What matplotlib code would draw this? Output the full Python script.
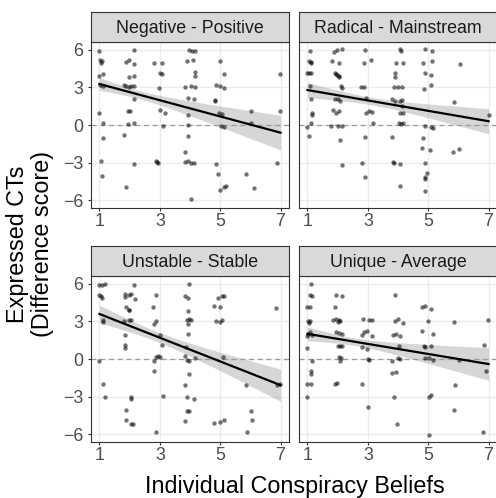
import matplotlib
matplotlib.use("Agg")
import matplotlib.pyplot as plt
import numpy as np

plt.rcParams['font.family'] = ['Liberation Sans', 'DejaVu Sans']

# ---------------- data ----------------
panel_titles = ['Negative - Positive', 'Radical - Mainstream',
                'Unstable - Stable', 'Unique - Average']
x_ticks = [1, 3, 5, 7]
y_ticks = [-6, -3, 0, 3, 6]
x_label = 'Individual Conspiracy Beliefs'
y_label = 'Expressed CTs\n(Difference score)'

neg_pos_x = [1.00, 1.03, 1.08, 1.06, 1.11, 0.97, 1.03, 1.11, 1.00, 1.11, 1.13, 1.06, 1.08,
             2.16, 1.88, 1.97, 2.13, 1.97, 2.16, 1.81, 1.88, 1.97, 2.05, 2.16, 2.13, 1.94, 2.02,
             1.94, 2.13, 1.81, 2.13, 1.88,
             2.80, 3.08, 3.01, 3.08, 2.97, 2.99, 3.18, 3.11, 2.86, 2.93, 2.91,
             3.98, 4.07, 4.15, 3.91, 4.09, 4.15, 4.18, 3.82, 4.04, 4.16, 3.94, 4.13, 3.93, 3.93,
             3.93, 3.83, 3.82, 3.93, 4.02, 4.13, 4.02,
             5.00, 5.11, 4.87, 5.00, 5.11, 4.82, 4.83, 4.96, 5.06, 5.03, 5.12, 4.85, 4.92, 5.01,
             5.11, 5.18,
             6.03, 6.03, 5.86, 6.13,
             6.97, 6.97, 6.89]
neg_pos_y = [5.89, 5.17, 5.09, 4.91, 4.06, 3.90, 3.18, 3.10, 0.93, 0.13, -1.03, -2.86, -4.03,
             5.97, 5.04, 5.17, 4.85, 3.85, 3.87, 3.18, 3.10, 3.05, 3.10, 3.10, 2.04, 1.14, 1.14,
             0.05, 0.13, -0.82, -3.13, -4.93,
             4.91, 4.91, 4.11, 4.06, 2.97, 1.19, 0.93, -0.05, -2.86, -3.05, -2.94,
             5.97, 5.92, 5.89, 5.12, 5.17, 4.19, 3.90, 3.05, 3.10, 3.00, 2.18, 2.04, 0.80, 0.00,
             -0.88, -2.12, -2.97, -2.89, -3.05, -3.00, -5.89,
             5.12, 4.03, 3.18, 3.10, 2.92, 1.99, 1.91, 0.93, 0.88, -0.05, -0.13, -3.13, -3.93, -5.17,
             -4.96, -4.85,
             1.14, 0.13, -3.90, -5.01,
             4.08, 1.14, -3.05]

rad_main_x = [1.09, 1.06, 1.11, 1.13, 1.00, 1.06, 1.11, 1.08, 1.11, 1.14, 1.14, 1.13, 1.00, 1.06,
              1.89, 1.97, 2.14, 1.80, 2.03, 1.90, 1.96, 2.03, 2.05, 1.97, 2.11, 2.16, 1.91, 2.00,
              2.07, 1.86, 1.94, 2.03, 1.78, 2.00, 2.14, 2.09, 2.16,
              2.92, 3.10, 2.88, 2.77, 2.88, 2.94, 3.05, 3.14, 2.94, 3.16, 2.92, 2.81, 2.92,
              4.05, 4.10, 3.93, 4.18, 3.90, 3.91, 3.88, 3.99, 4.12, 3.80, 3.91, 4.08, 4.12, 4.13,
              4.05, 4.16, 4.02, 4.10, 4.18, 3.80, 3.82, 3.86, 4.08, 4.05,
              4.88, 5.12, 5.13, 4.84, 4.90, 5.08, 5.08, 4.85, 4.88, 5.10, 5.17, 4.84, 4.80, 5.06,
              4.91, 4.95, 4.91, 4.88, 4.91,
              6.07, 5.85, 5.82, 6.01,
              7.00]
rad_main_y = [5.92, 5.09, 5.04, 4.96, 4.16, 4.11, 4.11, 3.10, 2.07, 0.93, 0.80, 0.13, -0.13, -0.85,
              5.84, 5.97, 6.02, 5.07, 4.96, 4.16, 4.06, 3.90, 3.85, 3.95, 3.10, 2.97, 2.07, 2.04,
              1.91, 1.19, 0.93, 1.11, -0.05, -0.05, -0.08, -1.19, -3.18,
              5.97, 5.17, 4.96, 3.05, 3.05, 2.18, 1.14, 1.06, 0.93, 0.13, -0.98, -3.00, -4.16,
              6.02, 5.89, 4.96, 4.96, 4.11, 3.85, 3.00, 3.00, 3.05, 2.04, 1.91, 1.91, 1.99, 1.51,
              0.98, 0.93, 0.13, 0.08, 0.13, -0.98, -2.92, -3.05, -3.10, -4.85,
              6.02, 5.89, 5.12, 4.96, 4.16, 3.98, 3.18, 2.89, -0.08, -0.13, -0.21, -1.06, -1.86, -1.99,
              -3.05, -3.85, -4.11, -4.30, -5.23,
              4.83, 1.86, -2.18, -1.94,
              0.80]

uns_stab_x = [1.00, 1.09, 1.17, 0.98, 1.06, 1.09, 1.13, 1.11, 1.00, 1.11, 1.17,
              1.83, 1.83, 1.97, 2.03, 2.14, 2.19, 1.88, 1.97, 1.99, 1.81, 1.99, 2.03, 1.85, 1.85,
              1.83, 2.05, 2.05, 1.88, 1.88, 2.05, 2.10,
              2.86, 2.79, 2.86, 2.80, 3.01, 3.08, 2.93, 3.01, 2.88, 2.82, 2.80, 3.10, 2.88,
              3.98, 3.85, 3.93, 3.93, 3.91, 3.98, 4.04, 3.95, 3.95, 3.87, 3.85, 3.90, 3.98, 4.15,
              3.98, 3.84, 3.91, 4.13, 3.91, 3.98, 3.85,
              4.92, 5.07, 5.12, 4.81, 4.98, 4.87, 5.01, 5.06, 5.09, 4.81, 5.01, 5.12,
              5.84, 6.03, 6.05, 5.90,
              6.86, 6.89, 6.97]
uns_stab_y = [5.92, 5.92, 5.99, 5.09, 4.99, 4.85, 3.13, 2.92, -0.19, -1.96, -3.05,
              5.17, 4.91, 5.12, 5.17, 5.92, 4.80, 4.11, 3.93, 3.87, 3.00, 3.08, 3.13, 1.91, 1.09,
              0.88, -3.05, -3.18, -4.08, -4.83, -5.15, -5.17,
              5.12, 4.11, 3.00, 2.81, 1.94, 1.09, 0.21, 0.13, 0.13, -0.13, -0.98, -2.97, -5.84,
              5.97, 4.99, 4.85, 3.79, 3.13, 3.18, 3.08, 2.81, 2.02, 0.93, 0.21, -0.05, -0.13, 0.08,
              -1.17, -2.04, -3.05, -3.18, -4.11, -4.11, -4.96,
              4.85, 4.99, 4.99, 4.24, 4.11, 3.00, 2.92, 3.13, 0.16, -5.09, -5.04, -4.88,
              -2.04, -4.11, -4.88, -5.84,
              4.03, -2.04, -1.96]

uniq_avg_x = [1.13, 1.09, 1.14, 1.00, 1.08, 1.03, 1.08, 1.06, 1.03, 1.08, 1.14, 1.00, 0.97, 1.14,
              1.11, 1.13, 0.97, 1.13, 1.00,
              1.94, 2.16, 1.91, 1.83, 1.94, 2.05, 2.09, 2.00, 1.94, 2.05, 2.14, 2.00, 2.07, 2.14,
              2.05, 2.11, 2.07, 1.91, 1.97,
              2.83, 3.05, 3.13, 2.81, 2.88, 2.96, 3.13, 2.81, 2.96, 2.99, 3.05, 2.81, 2.99,
              3.91, 3.91, 3.99, 4.16, 3.85, 3.93, 4.08, 4.02, 3.99, 4.05, 3.79, 3.80, 3.93, 3.88, 3.96,
              4.80, 4.88, 5.08, 4.99, 4.80, 5.17, 4.85, 4.91, 5.08, 4.91, 5.04, 5.15, 5.04, 5.10, 5.02,
              5.87, 6.01, 5.89, 5.87,
              6.98, 6.84, 6.92, 6.81]
uniq_avg_y = [5.97, 5.12, 4.99, 4.14, 4.14, 3.05, 3.00, 2.86, 2.02, 2.12, 1.94, 1.86, 0.88, -0.13,
              -0.98, -1.17, -1.96, -1.99, -3.00,
              5.12, 5.04, 4.14, 3.13, 3.18, 3.13, 3.00, 2.92, 2.12, 2.07, 2.02, 1.01, 1.06, 1.06,
              0.13, 0.08, -0.19, -1.96, -1.91,
              3.18, 3.13, 3.13, 1.94, 2.12, 2.20, 1.86, 0.95, 0.80, 0.03, -0.05, -1.99, -3.82,
              5.07, 3.00, 3.18, 2.86, 1.94, 2.02, 1.86, 1.06, 0.08, 0.03, -0.13, -1.11, -1.03, -3.02, -5.17,
              4.14, 4.19, 3.98, 3.00, 2.20, 2.02, 1.06, 0.95, 1.01, 0.08, 0.08, -0.05, -3.02, -2.84, -6.02,
              2.92, -0.11, -2.10, -4.03,
              3.13, 1.09, -0.98, -5.84]

# fitted regression lines (value at x=1 and x=7) and 95% CI half-widths
fit_at_1 = [3.26, 2.78, 3.58, 2.00]
fit_at_7 = [-0.61, 0.30, -2.08, -0.40]
ci_at_1 = [0.50, 0.60, 0.70, 0.55]
ci_min = [0.33, 0.30, 0.40, 0.30]
ci_at_7 = [1.38, 1.00, 1.28, 1.30]

panel_x = [neg_pos_x, rad_main_x, uns_stab_x, uniq_avg_x]
panel_y = [neg_pos_y, rad_main_y, uns_stab_y, uniq_avg_y]

# ---------------- layout (pixels) ----------------
W, H = 496, 498
fig = plt.figure(figsize=(W / 100, H / 100), dpi=100)

lefts = [91, 299, 91, 299]
tops = [42, 42, 276, 276]
pw, ph, sh = 198, 166, 30

txt_grey = '#4D4D4D'
border = '#333333'

for i in range(4):
    l, t = lefts[i], tops[i]
    ax = fig.add_axes([l / W, 1 - (t + ph) / H, pw / W, ph / H])
    sax = fig.add_axes([l / W, 1 - t / H, pw / W, sh / H])

    x = np.array(panel_x[i])
    y = np.array(panel_y[i])

    ax.set_xlim(0.72, 7.28)
    ax.set_ylim(-6.6, 6.6)
    ax.set_xticks(x_ticks)
    ax.set_yticks(y_ticks)
    ax.grid(True, color='#EBEBEB', linewidth=1.0)
    ax.set_axisbelow(True)
    ax.axhline(0, color='#9A9A9A', linewidth=0.9, linestyle=(0, (4, 3)), zorder=1)

    # linear fit line with hyperbolic confidence band
    x0, x1 = x_ticks[0], x_ticks[-1]
    xs = np.linspace(x0, x1, 120)
    slope = (fit_at_7[i] - fit_at_1[i]) / (x1 - x0)
    yhat = fit_at_1[i] + slope * (xs - x0)
    A = ci_min[i] ** 2
    r = np.sqrt((ci_at_7[i] ** 2 - A) / (ci_at_1[i] ** 2 - A))
    xc = (x1 + r * x0) / (1 + r)
    B = (ci_at_1[i] ** 2 - A) / (xc - x0) ** 2
    hw = np.sqrt(A + B * (xs - xc) ** 2)
    ax.fill_between(xs, yhat - hw, yhat + hw, color='#999999', alpha=0.4,
                    linewidth=0, zorder=2)

    ax.scatter(x, y, s=10, color='black', alpha=0.55, linewidths=0, zorder=3)
    ax.plot(xs, yhat, color='black', linewidth=1.6, zorder=4)

    for sp in ax.spines.values():
        sp.set_color(border)
        sp.set_linewidth(0.8)
    ax.tick_params(axis='both', length=2.4, width=0.8, color=border, labelsize=12.8,
                   labelcolor=txt_grey)
    ax.tick_params(axis='x', pad=1.5)
    ax.tick_params(axis='y', pad=3)
    if i % 2 == 1:
        ax.tick_params(axis='y', left=False, labelleft=False)

    sax.set_facecolor('#D9D9D9')
    sax.set_xticks([])
    sax.set_yticks([])
    for sp in sax.spines.values():
        sp.set_color(border)
        sp.set_linewidth(0.8)
    sax.text(0.5, 0.29, panel_titles[i], transform=sax.transAxes, ha='center',
             va='baseline', fontsize=12.8, color='#1A1A1A')

fig.text(295 / W, 1 - 493 / H, x_label, ha='center', va='baseline', fontsize=16.8,
         color='black')
fig.text(30 / W, 1 - 244 / H, y_label, ha='center', va='center', rotation=90,
         multialignment='center', fontsize=16.8, color='black', linespacing=1.15)

fig.savefig('out.png', dpi=100)
